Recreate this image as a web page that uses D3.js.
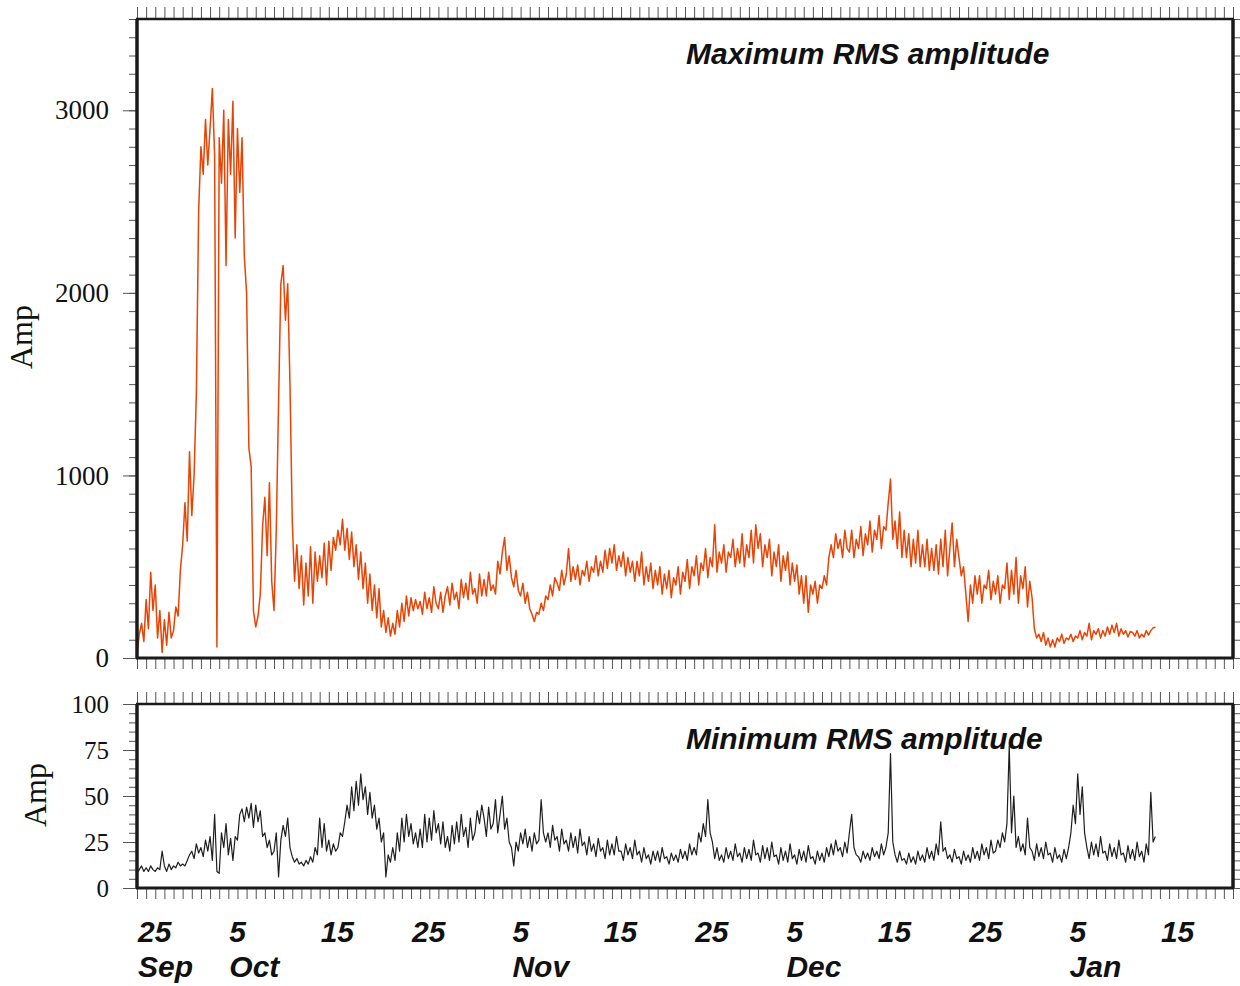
<!DOCTYPE html>
<html>
<head>
<meta charset="utf-8">
<script src="https://d3js.org/d3.v7.min.js"></script>
<style>
body { margin: 0; background: #fff; }
svg { display: block; }
.ylab text { font-family: "Liberation Serif", "Times New Roman", serif; fill: #111; }
.tick line { stroke: #555; }
.title { font-family: "Liberation Sans", Arial, sans-serif; font-weight: bold; font-style: italic; fill: #111; }
.amp { font-family: "Liberation Serif", "Times New Roman", serif; fill: #111; }
</style>
</head>
<body>
<svg width="1240" height="986"></svg>
<script>
// values every 6 hours starting 2004-09-25 00:00 UTC
var maxSep = [20, 130, 190, 90, 320, 160, 470, 260, 400, 110, 260, 30, 210, 70, 250, 110,
    150, 280, 230, 480, 620, 850, 640, 1130];
var maxOct = [780, 1000, 1450, 2450, 2800, 2650, 2950, 2700, 2900, 3120, 2750, 60,
    2850, 2600, 3000, 2150, 2950, 2650, 3050, 2300, 2900, 2550, 2850, 2200,
    2000, 1150, 1050, 260, 170, 230, 350, 720, 880, 560, 960, 420,
    260, 700, 1400, 2050, 2150, 1850, 2050, 1500, 750, 420, 620, 380,
    560, 290, 520, 340, 610, 300, 580, 420, 560, 440, 630, 400,
    640, 480, 660, 590, 700, 620, 760, 590, 710, 540, 690, 500,
    620, 430, 580, 380, 520, 300, 460, 260, 400, 220, 380, 170,
    260, 140, 220, 120, 190, 130, 260, 170, 300, 200, 340, 230,
    330, 260, 320, 270, 310, 240, 360, 270, 330, 250, 390, 300,
    270, 360, 250, 340, 390, 290, 410, 320, 360, 270, 430, 330,
    410, 320, 470, 350];
var maxNov = [380, 300, 460, 340, 430, 340, 470, 370, 400, 350, 530, 460,
    580, 660, 480, 560, 440, 390, 480, 370, 340, 410, 300, 360,
    270, 240, 200, 250, 240, 300, 260, 340, 320, 400, 340, 440,
    410, 370, 480, 400, 460, 600, 420, 500, 430, 510, 400, 480,
    450, 530, 420, 500, 470, 560, 450, 530, 470, 590, 490, 600,
    520, 620, 480, 560, 500, 580, 450, 550, 470, 530, 420, 530,
    450, 580, 400, 500, 420, 520, 380, 480, 400, 500, 350, 460,
    380, 480, 330, 440, 400, 500, 350, 470, 420, 540, 380, 500,
    450, 560, 400, 520, 480, 600, 440, 550, 500, 730, 470, 580,
    520, 620, 470, 580, 550, 650, 500, 600, 520, 680, 500, 620];
var maxDec = [550, 700, 520, 730, 600, 680, 500, 620, 550, 650, 450, 580,
    500, 620, 420, 560, 480, 580, 400, 520, 420, 510, 350, 450,
    300, 450, 250, 400, 350, 420, 300, 400, 380, 450, 400, 550,
    620, 550, 680, 600, 650, 550, 700, 600, 580, 700, 550, 650,
    600, 720, 560, 680, 620, 750, 580, 700, 650, 780, 600, 720,
    700, 850, 980, 650, 750, 600, 800, 550, 700, 550, 680, 500,
    650, 520, 700, 500, 620, 500, 650, 480, 600, 480, 620, 460,
    650, 500, 700, 450, 600, 740, 500, 650, 550, 450, 500, 350,
    200, 400, 300, 450, 350, 450, 300, 400, 380, 480, 320, 420,
    350, 450, 300, 400, 380, 520, 320, 480, 350, 550, 300, 450,
    380, 500, 280, 420];
var maxJan = [330, 160, 110, 130, 90, 140, 70, 110, 60, 100, 60, 110,
    90, 130, 80, 110, 100, 130, 90, 120, 110, 150, 100, 140,
    120, 190, 100, 150, 130, 160, 110, 150, 120, 170, 130, 180,
    140, 190, 120, 160, 130, 150, 115, 145, 140, 120, 150, 110,
    130, 115, 150, 125, 150, 165, 170];

var minSep = [8, 10, 12, 9, 11, 9, 12, 10, 9, 11, 10, 20, 12, 9, 13, 10,
    12, 11, 14, 12, 13, 12, 15, 18];
var minOct = [20, 16, 24, 19, 22, 17, 26, 20, 28, 15, 40, 9,
    8, 30, 22, 35, 18, 27, 15, 28, 26, 40, 43, 36,
    44, 38, 46, 33, 45, 36, 42, 28, 30, 22, 26, 18,
    20, 30, 6, 26, 34, 28, 38, 22, 17, 14, 16, 13,
    14, 12, 15, 13, 17, 14, 22, 18, 38, 22, 35, 20,
    26, 18, 24, 20, 22, 30, 28, 36, 45, 38, 55, 42,
    58, 45, 62, 48, 55, 40, 52, 38, 45, 32, 38, 25,
    30, 6, 18, 14, 22, 15, 30, 20, 38, 25, 40, 28,
    35, 24, 30, 22, 32, 22, 40, 25, 38, 26, 42, 30,
    35, 24, 36, 22, 28, 20, 34, 24, 36, 25, 40, 28,
    33, 22, 38, 26];
var minNov = [30, 42, 35, 45, 38, 28, 44, 32, 35, 48, 30, 40,
    50, 32, 38, 25, 22, 12, 25, 20, 30, 24, 32, 22,
    28, 20, 30, 24, 26, 48, 30, 25, 30, 22, 34, 26,
    28, 20, 32, 24, 26, 20, 30, 22, 28, 19, 32, 23,
    25, 18, 28, 20, 24, 17, 27, 20, 22, 16, 26, 18,
    24, 18, 28, 20, 20, 15, 24, 18, 22, 16, 26, 18,
    20, 14, 22, 16, 18, 13, 20, 15, 20, 14, 22, 16,
    17, 13, 19, 15, 18, 14, 21, 16, 20, 15, 24, 18,
    22, 18, 30, 25, 35, 28, 48, 30, 25, 16, 22, 15,
    18, 14, 22, 16, 20, 15, 24, 17, 19, 14, 22, 16];
var minDec = [21, 15, 26, 18, 19, 14, 23, 16, 22, 15, 25, 17,
    18, 13, 22, 15, 20, 14, 24, 16, 18, 13, 21, 15,
    20, 14, 23, 16, 17, 13, 20, 15, 19, 14, 22, 17,
    24, 18, 26, 20, 22, 17, 25, 19, 30, 40, 22, 18,
    17, 14, 20, 16, 19, 15, 22, 17, 20, 16, 24, 18,
    22, 30, 73, 25, 18, 14, 20, 15, 16, 13, 19, 14,
    17, 13, 20, 15, 18, 14, 22, 16, 20, 15, 24, 18,
    36, 20, 22, 16, 18, 14, 21, 16, 17, 13, 20, 15,
    18, 14, 22, 16, 20, 15, 24, 18, 22, 16, 26, 19,
    20, 26, 22, 30, 25, 35, 77, 30, 50, 22, 28, 20,
    24, 18, 38, 22];
var minJan = [20, 15, 24, 17, 22, 16, 25, 18, 19, 14, 22, 16,
    18, 14, 21, 16, 22, 30, 45, 35, 62, 40, 55, 30,
    22, 16, 25, 18, 24, 17, 28, 19, 20, 15, 24, 17,
    22, 16, 26, 18, 19, 14, 23, 16, 21, 15, 25, 17,
    20, 14, 24, 18, 52, 25, 28];

var maxTicks = [0, 1000, 2000, 3000];
var minTicks = [0, 25, 50, 75, 100];
var dayLabels = ["2004-09-25", "2004-10-05", "2004-10-15", "2004-10-25", "2004-11-05",
    "2004-11-15", "2004-11-25", "2004-12-05", "2004-12-15", "2004-12-25",
    "2005-01-05", "2005-01-15"];
var monthLabels = [["2004-09-25", "Sep"], ["2004-10-05", "Oct"], ["2004-11-05", "Nov"],
    ["2004-12-05", "Dec"], ["2005-01-05", "Jan"]];

var startDate = new Date(Date.UTC(2004, 8, 25));
var endDate = new Date(Date.UTC(2005, 0, 23));
var stepHours = 6;

var svg = d3.select("svg");

var x = d3.scaleUtc().domain([startDate, endDate]).range([137, 1233]);
var yMax = d3.scaleLinear().domain([0, 3500]).range([658, 19]);
var yMin = d3.scaleLinear().domain([0, 100]).range([888, 704]);

function toPoints(values) {
    return values.map(function (v, i) {
        return {date: d3.utcHour.offset(startDate, i * stepHours), value: v};
    });
}

var maxData = toPoints(maxSep.concat(maxOct, maxNov, maxDec, maxJan));
var minData = toPoints(minSep.concat(minOct, minNov, minDec, minJan));

function drawPanel(y, ticks, minorStep, labelSize, series, color, width) {
    var top = y.range()[1], bottom = y.range()[0];
    var minor = d3.range(y.domain()[0], y.domain()[1] + 0.001, minorStep);

    // day ticks above and below
    svg.append("g")
        .attr("transform", "translate(0," + top + ")")
        .call(d3.axisTop(x).ticks(d3.utcDay.every(1)).tickSize(12).tickFormat(""))
        .call(function (g) { g.select(".domain").remove(); });
    svg.append("g")
        .attr("transform", "translate(0," + bottom + ")")
        .call(d3.axisBottom(x).ticks(d3.utcDay.every(1)).tickSize(11).tickFormat(""))
        .call(function (g) { g.select(".domain").remove(); });

    // y ticks left and right
    [[d3.axisLeft, 137], [d3.axisRight, 1233]].forEach(function (a) {
        svg.append("g")
            .attr("transform", "translate(" + a[1] + ",0)")
            .call(a[0](y).tickValues(minor).tickSize(8).tickFormat(""))
            .call(function (g) { g.select(".domain").remove(); });
    });
    svg.append("g")
        .attr("class", "ylab")
        .attr("transform", "translate(137,0)")
        .call(d3.axisLeft(y).tickValues(ticks).tickSize(14).tickPadding(14).tickFormat(d3.format("d")))
        .call(function (g) {
            g.select(".domain").remove();
            g.selectAll("text").attr("font-size", labelSize).attr("font-family", null);
        });
    svg.append("g")
        .attr("transform", "translate(1233,0)")
        .call(d3.axisRight(y).tickValues(ticks).tickSize(14).tickFormat(""))
        .call(function (g) { g.select(".domain").remove(); });

    var line = d3.line()
        .x(function (d) { return x(d.date); })
        .y(function (d) { return y(d.value); });

    svg.append("path")
        .datum(series)
        .attr("fill", "none")
        .attr("stroke", color)
        .attr("stroke-width", width)
        .attr("stroke-linejoin", "round")
        .attr("d", line);

    // frame
    var frame = svg.append("g").attr("stroke", "#1a1a1a");
    frame.append("line").attr("x1", 136).attr("x2", 1234).attr("y1", top).attr("y2", top).attr("stroke-width", 2.5);
    frame.append("line").attr("x1", 136).attr("x2", 1234).attr("y1", bottom).attr("y2", bottom).attr("stroke-width", 3);
    frame.append("line").attr("x1", 137).attr("x2", 137).attr("y1", top).attr("y2", bottom).attr("stroke-width", 3.5);
    frame.append("line").attr("x1", 1233).attr("x2", 1233).attr("y1", top).attr("y2", bottom).attr("stroke-width", 3.5);
}

drawPanel(yMax, maxTicks, 100, 27, maxData, "#e84405", 1.5);
drawPanel(yMin, minTicks, 5, 25, minData, "#1e1e1e", 1.2);

// titles
svg.append("text").attr("class", "title").attr("x", 686).attr("y", 64)
    .attr("font-size", 30).text("Maximum RMS amplitude");
svg.append("text").attr("class", "title").attr("x", 686).attr("y", 749)
    .attr("font-size", 30).text("Minimum RMS amplitude");

// y axis titles
svg.append("text").attr("class", "amp").attr("font-size", 32)
    .attr("text-anchor", "middle")
    .attr("transform", "translate(32,337) rotate(-90)").text("Amp");
svg.append("text").attr("class", "amp").attr("font-size", 32)
    .attr("text-anchor", "middle")
    .attr("transform", "translate(46,795) rotate(-90)").text("Amp");

// date labels
var parse = d3.utcParse("%Y-%m-%d");
svg.append("g").selectAll("text")
    .data(dayLabels)
    .enter().append("text")
    .attr("class", "title")
    .attr("font-size", 30)
    .attr("x", function (d) { return x(parse(d)) + 1; })
    .attr("y", 942)
    .text(function (d) { return d3.utcFormat("%-d")(parse(d)); });
svg.append("g").selectAll("text")
    .data(monthLabels)
    .enter().append("text")
    .attr("class", "title")
    .attr("font-size", 30)
    .attr("x", function (d) { return x(parse(d[0])) + 1; })
    .attr("y", 977)
    .text(function (d) { return d[1]; });
</script>
</body>
</html>
